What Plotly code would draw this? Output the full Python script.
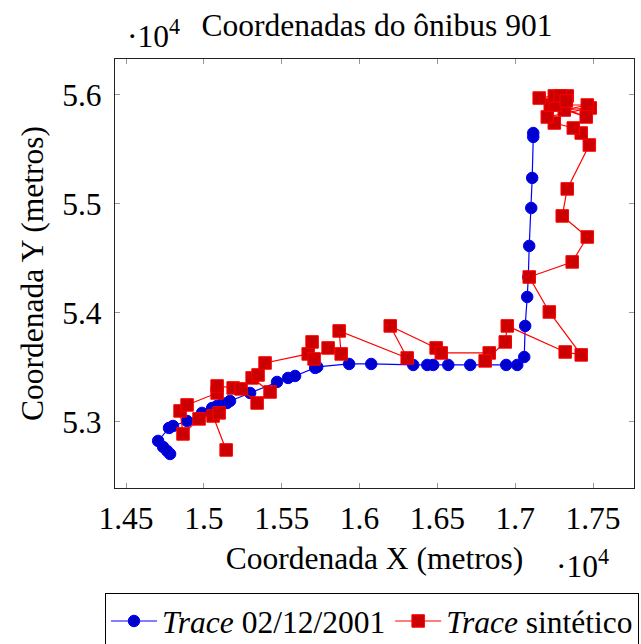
import plotly.graph_objects as go

# Trace 02/12/2001 (metros)
real_x = [14783, 14764, 14738, 14706, 14776, 14802, 14892, 14988, 15053, 15085,
          15117, 15149, 15168, 15297, 15470, 15541, 15586, 15715, 15728, 15933,
          16075, 16345, 16435, 16473, 16570, 16711, 16942, 17013, 17058, 17064,
          17077, 17084, 17090, 17103, 17109, 17116, 17116]
real_y = [52706, 52734, 52771, 52826, 52945, 52963, 53009, 53083, 53128, 53147,
          53165, 53174, 53193, 53266, 53367, 53404, 53422, 53496, 53505, 53532,
          53532, 53523, 53523, 53523, 53523, 53523, 53523, 53523, 53596, 53881,
          54147, 54330, 54615, 54963, 55239, 55615, 55651]

# Trace sintetico (metros)
synt_x = [15143, 15059, 15098, 14969, 14866, 14847, 14892, 15085, 15085, 15188,
          15239, 15342, 15425, 15310, 15348, 15393, 15670, 15695, 15708, 15798,
          15882, 15869, 16306, 16197, 16492, 16525, 16833, 16807, 16936, 16949,
          17321, 17424, 17219, 17090, 17366, 17463, 17302, 17334, 17476, 17424,
          17373, 17251, 17206, 17482, 17315, 17463, 17225, 17456, 17257, 17154,
          17251, 17334, 17289, 17328]
synt_y = [52743, 53055, 53083, 53028, 52890, 53101, 53156, 53266, 53330, 53312,
          53303, 53174, 53275, 53404, 53431, 53541, 53624, 53734, 53578, 53679,
          53624, 53835, 53587, 53881, 53679, 53633, 53633, 53560, 53734, 53881,
          53642, 53615, 54009, 54330, 54468, 54697, 54890, 55138, 55541, 55651,
          55697, 55743, 55798, 55881, 55862, 55908, 55908, 55798, 55908, 55972,
          55991, 55991, 55991, 55945]

x_ticks = [14500, 15000, 15500, 16000, 16500, 17000, 17500]
x_tick_labels = ["1.45", "1.5", "1.55", "1.6", "1.65", "1.7", "1.75"]
y_ticks = [53000, 54000, 55000, 56000]
y_tick_labels = ["5.3", "5.4", "5.5", "5.6"]

FONT = "Liberation Serif"
FS = 31.5

fig = go.Figure()
fig.add_trace(go.Scatter(
    x=real_x, y=real_y, mode="lines+markers",
    name="<i>Trace</i> 02/12/2001",
    line=dict(color="rgb(0,0,255)", width=1.2),
    marker=dict(symbol="circle", size=11.5, color="rgb(0,0,204)",
                line=dict(color="rgb(0,0,255)", width=1)),
))
fig.add_trace(go.Scatter(
    x=synt_x, y=synt_y, mode="lines+markers",
    name="<i>Trace</i> sintético",
    line=dict(color="rgb(255,0,0)", width=1.2),
    marker=dict(symbol="square", size=12.5, color="rgb(204,0,0)",
                line=dict(color="rgb(255,0,0)", width=1)),
))

L, R, T, B = 115, 7, 59, 156
W, H = 641, 644
pw = W - L - R
ph = H - T - B

fig.update_layout(
    width=W, height=H,
    margin=dict(l=L, r=R, t=T, b=B, pad=0, autoexpand=False),
    paper_bgcolor="white", plot_bgcolor="white",
    font=dict(family=FONT, size=FS, color="black"),
    title=dict(text="Coordenadas do ônibus 901", x=(377 - L) / pw, xref="paper",
               xanchor="center", y=1 - 25 / H, yref="container", yanchor="middle",
               font=dict(family=FONT, size=FS, color="black")),
    showlegend=True,
    legend=dict(orientation="h", x=(105 - L) / pw, xanchor="left",
                y=-(593 - (H - B)) / ph, yanchor="top",
                bordercolor="black", borderwidth=1, bgcolor="white",
                font=dict(family=FONT, size=FS, color="black"),
                itemwidth=46, tracegroupgap=0),
)
fig.update_xaxes(
    range=[14429, 17763], tickvals=x_ticks, ticktext=x_tick_labels,
    showgrid=False, zeroline=False, showline=True, linecolor="#222", linewidth=1.2,
    mirror="ticks", ticks="inside", ticklen=5, tickcolor="#999", tickwidth=1,
    ticklabelstandoff=2,
    tickfont=dict(family=FONT, size=FS, color="black"),
    title=dict(text="Coordenada X (metros)", standoff=12,
               font=dict(family=FONT, size=FS, color="black")),
)
fig.update_yaxes(
    range=[52394, 56330], tickvals=y_ticks, ticktext=y_tick_labels,
    showgrid=False, zeroline=False, showline=True, linecolor="#222", linewidth=1.2,
    mirror="ticks", ticks="inside", ticklen=5, tickcolor="#999", tickwidth=1,
    ticklabelstandoff=6,
    tickfont=dict(family=FONT, size=FS, color="black"),
    title=dict(text="Coordenada Y (metros)", standoff=9,
               font=dict(family=FONT, size=FS, color="black")),
)

fig.add_annotation(text="·10<sup>4</sup>", xref="paper", yref="paper",
                   x=(153 - L) / pw, y=1 + (T - 34) / ph, showarrow=False,
                   xanchor="center", yanchor="middle",
                   font=dict(family=FONT, size=FS, color="black"))
fig.add_annotation(text="·10<sup>4</sup>", xref="paper", yref="paper",
                   x=(582 - L) / pw, y=-(564 - (H - B)) / ph, showarrow=False,
                   xanchor="center", yanchor="middle",
                   font=dict(family=FONT, size=FS, color="black"))

fig.write_html("out.html")
